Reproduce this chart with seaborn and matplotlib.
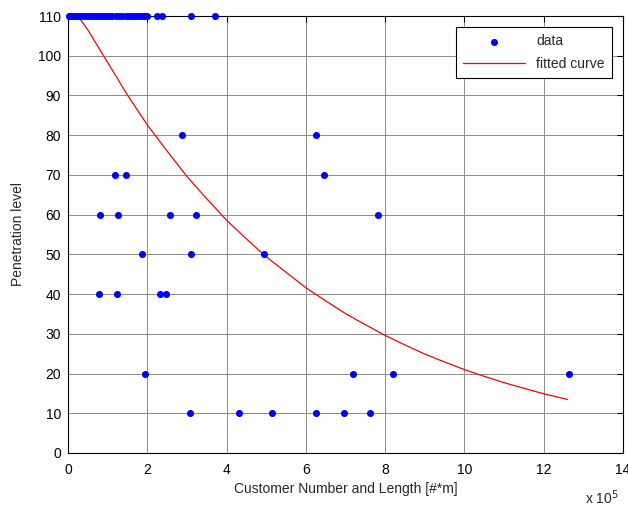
import matplotlib
matplotlib.use("Agg")
import matplotlib.pyplot as plt
import seaborn as sns
import numpy as np
import pandas as pd

# data (x in units of 1e5)
x_110 = [0.02, 0.08, 0.14, 0.2, 0.27, 0.34, 0.41, 0.48, 0.55, 0.62, 0.7, 0.77, 0.84, 0.92,
         0.99, 1.06, 1.12, 1.2, 1.28, 1.36, 1.46, 1.54, 1.62, 1.68, 1.76, 1.84, 1.92, 1.99,
         2.25, 2.38, 3.1, 3.71]
x_80 = [2.87, 6.25]
x_70 = [1.19, 1.46, 6.46]
x_60 = [0.8, 1.25, 2.58, 3.22, 7.81]
x_50 = [1.87, 3.1, 4.94]
x_40 = [0.77, 1.23, 2.32, 2.46]
x_20 = [1.94, 7.2, 8.2, 12.65]
x_10 = [3.08, 4.32, 5.15, 6.26, 6.97, 7.63]

# fitted curve
curve_x = [0.25, 0.5, 1, 1.5, 2, 2.5, 3, 3.5, 4, 4.5, 5, 5.5, 6, 6.5, 7, 7.5, 8, 8.5,
           9, 9.5, 10, 10.5, 11, 11.5, 12, 12.6]
curve_y = [110, 106.5, 98.3, 90.1, 82.6, 76.0, 69.6, 64.0, 58.6, 53.9, 49.4, 45.5, 41.6,
           38.3, 35.1, 32.3, 29.6, 27.2, 24.9, 22.9, 21.0, 19.3, 17.7, 16.3, 14.9, 13.5]

xs, ys = [], []
for lvl, arr in [(110, x_110), (80, x_80), (70, x_70), (60, x_60), (50, x_50),
                 (40, x_40), (20, x_20), (10, x_10)]:
    xs += arr
    ys += [lvl] * len(arr)
df = pd.DataFrame({"x": xs, "y": ys})
cdf = pd.DataFrame({"x": curve_x, "y": curve_y})

sns.set_style("white")
plt.rcParams["font.family"] = ["Liberation Sans", "DejaVu Sans"]

fig = plt.figure(figsize=(6.28, 5.08), dpi=100)
ax = fig.add_axes([68/628, 55/508, 555/628, 437/508])

sns.scatterplot(data=df, x="x", y="y", ax=ax, color="#0000ff", s=26, linewidth=0,
                label="data", zorder=3, clip_on=False)
sns.lineplot(data=cdf, x="x", y="y", ax=ax, color="#ff0000", linewidth=0.9,
             label="fitted curve", zorder=2)

ax.set_xlim(0, 14)
ax.set_ylim(0, 110)
ax.set_xticks(range(0, 15, 2))
ax.set_yticks(range(0, 111, 10))
ax.grid(True, color="#8c8c8c", linewidth=0.7, linestyle="-")
ax.set_axisbelow(True)
for s in ax.spines.values():
    s.set_color("black")
    s.set_linewidth(0.8)
ax.tick_params(direction="in", length=4, width=0.8, top=True, right=True,
               labelsize=10, colors="black")
ax.tick_params(axis="x", pad=7)
ax.tick_params(axis="y", pad=5)
ax.set_xlabel("Customer Number and Length [#*m]", fontsize=10, labelpad=4)
ax.set_ylabel("Penetration level", fontsize=10, labelpad=9)
fig.text(585/628, 1 - 504/508, r"x 10$^5$", fontsize=10, ha="left", va="baseline")

leg = ax.legend(loc="upper right", bbox_to_anchor=(0.9925, 0.99), frameon=True,
                fancybox=False, framealpha=1, edgecolor="black", fontsize=10,
                handlelength=4.5, borderpad=0.5, labelspacing=0.6)
leg.get_frame().set_linewidth(0.8)

fig.savefig("out.png", dpi=100)
